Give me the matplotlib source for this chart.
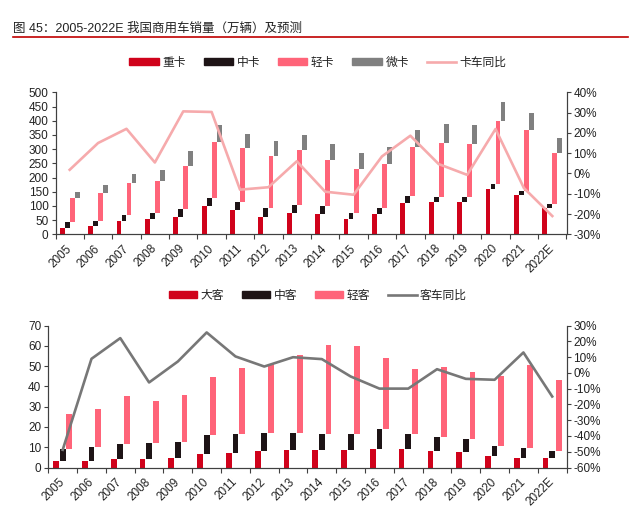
import matplotlib
matplotlib.use("Agg")
import matplotlib.pyplot as plt
import numpy as np
from matplotlib.lines import Line2D
from matplotlib.patches import Patch

plt.rcParams['font.family'] = ['Liberation Sans', 'Noto Sans CJK SC', 'DejaVu Sans']

years = ['2005', '2006', '2007', '2008', '2009', '2010', '2011', '2012', '2013',
         '2014', '2015', '2016', '2017', '2018', '2019', '2020', '2021', '2022E']

# Trucks (万辆), segment values
heavy = [21, 29, 48, 54, 62, 99, 86, 62, 75, 72, 53, 72, 109, 112, 112, 161, 139, 94]
medium = [21, 19, 21, 20, 26, 30, 29, 30, 29, 26, 21, 20, 26, 19, 19, 15, 15, 12]
light = [86, 97, 112, 115, 154, 195, 190, 183, 192, 165, 155, 156, 174, 189, 187, 222, 212, 180]
micro = [21, 28, 32, 36, 52, 60, 48, 54, 53, 55, 57, 61, 59, 67, 66, 68, 61, 53]
truck_yoy = [1.8, 15, 22, 5.4, 30.6, 30.3, -8, -6.8, 6, -9, -10.5, 8.4, 18.6, 4.6, -0.7, 21.9, -7.2, -21]

# Buses (万辆), segment values
bus_large = [3.0, 3.0, 4.1, 4.1, 4.6, 6.9, 7.2, 8.0, 8.4, 8.7, 8.7, 9.0, 9.0, 8.0, 7.7, 5.7, 4.9, 4.6]
bus_medium = [6.0, 6.9, 7.6, 7.9, 8.2, 9.0, 9.4, 8.9, 8.8, 7.9, 7.9, 9.9, 7.3, 7.1, 6.3, 5.0, 4.6, 3.4]
bus_light = [17.6, 19.0, 23.4, 21.0, 22.8, 28.6, 32.3, 34.2, 38.5, 43.8, 43.3, 35.0, 32.1, 34.3, 33.3, 34.5, 41.1, 35.2]
bus_yoy = [-48.8, 8.9, 22, -6.1, 7.2, 25.6, 10.4, 4.0, 9.9, 8.7, -2.3, -10, -10, 2.3, -3.8, -4.4, 12.9, -15]

C_HEAVY = '#D0021B'
C_MED = '#1E1416'
C_LIGHT = '#FF6479'
C_MICRO = '#808080'
C_TLINE = '#F6AAAC'
C_BLINE = '#777777'
SPINE = '#404040'
TXT = '#222222'
FS = 8.5

fig = plt.figure(figsize=(6.4, 5.23), dpi=100)

# Title
fig.text(13/640, 1-29/523, '图 45：2005-2022E 我国商用车销量（万辆）及预测', fontsize=9,
         color=TXT, ha='left', va='center')
fig.add_artist(Line2D([13/640, 628/640], [1-37/523, 1-37/523], color='#C00000', lw=1.2,
                      transform=fig.transFigure))

x = np.arange(len(years))


def style_axes(ax, ax2):
    for a in (ax, ax2):
        a.spines['top'].set_visible(False)
        for s in ('left', 'right', 'bottom'):
            a.spines[s].set_color(SPINE)
            a.spines[s].set_linewidth(0.8)
    ax.set_xlim(-0.5, len(years) - 0.5)
    ax.set_xticks(x)
    ax.set_xticklabels(years, rotation=45, ha='right', va='center', rotation_mode='anchor')
    ax.tick_params(axis='x', which='major', length=0, pad=9, labelsize=FS, labelcolor=TXT)
    ax.set_xticks(np.arange(len(years) + 1) - 0.5, minor=True)
    ax.tick_params(axis='x', which='minor', length=3.5, width=0.8, color=SPINE, direction='out')
    ax.tick_params(axis='y', length=3, width=0.8, color=SPINE, labelsize=FS, labelcolor=TXT, pad=2)
    ax2.tick_params(axis='y', length=3, width=0.8, color=SPINE, labelsize=FS, labelcolor=TXT, pad=2)


# ---------- Top chart: trucks ----------
ax = fig.add_axes([55.5/640, 1-234.3/523, 511/640, 142/523])
ax2 = ax.twinx()
w = 0.17
step = 0.177
b1 = np.array(heavy)
b2 = b1 + np.array(medium)
b3 = b2 + np.array(light)
ax.bar(x - 1.5*step, heavy, width=w, color=C_HEAVY, zorder=2)
ax.bar(x - 0.5*step, medium, width=w, bottom=b1, color=C_MED, zorder=2)
ax.bar(x + 0.5*step, light, width=w, bottom=b2, color=C_LIGHT, zorder=2)
ax.bar(x + 1.5*step, micro, width=w, bottom=b3, color=C_MICRO, zorder=2)
ax2.plot(x, truck_yoy, color=C_TLINE, lw=1.9, zorder=3)
ax.set_ylim(0, 500)
ax.set_yticks(np.arange(0, 501, 50))
ax2.set_ylim(-30, 40)
ax2.set_yticks(np.arange(-30, 41, 10))
ax2.set_yticklabels([f'{v}%' for v in range(-30, 41, 10)])
style_axes(ax, ax2)

h1 = [Patch(color=C_HEAVY), Patch(color=C_MED), Patch(color=C_LIGHT), Patch(color=C_MICRO),
      Line2D([], [], color=C_TLINE, lw=1.9)]
fig.legend(h1, ['重卡', '中卡', '轻卡', '微卡', '卡车同比'], loc='center',
           bbox_to_anchor=(318/640, 1-63/523), ncol=5, frameon=False, fontsize=FS,
           handlelength=2.5, handleheight=0.55, handletextpad=0.3, columnspacing=1.5,
           labelcolor=TXT)

# ---------- Bottom chart: buses ----------
bx = fig.add_axes([48.3/640, 1-467.5/523, 518.3/640, 142/523])
bx2 = bx.twinx()
wb = 0.2
stepb = 0.23
c1 = np.array(bus_large)
c2 = c1 + np.array(bus_medium)
bx.bar(x - stepb, bus_large, width=wb, color=C_HEAVY, zorder=2)
bx.bar(x, bus_medium, width=wb, bottom=c1, color=C_MED, zorder=2)
bx.bar(x + stepb, bus_light, width=wb, bottom=c2, color=C_LIGHT, zorder=2)
bx2.plot(x, bus_yoy, color=C_BLINE, lw=1.9, zorder=3)
bx.set_ylim(0, 70)
bx.set_yticks(np.arange(0, 71, 10))
bx2.set_ylim(-60, 30)
bx2.set_yticks(np.arange(-60, 31, 10))
bx2.set_yticklabels([f'{v}%' for v in range(-60, 31, 10)])
style_axes(bx, bx2)

h2 = [Patch(color=C_HEAVY), Patch(color=C_MED), Patch(color=C_LIGHT),
      Line2D([], [], color=C_BLINE, lw=1.9)]
fig.legend(h2, ['大客', '中客', '轻客', '客车同比'], loc='center',
           bbox_to_anchor=(318/640, 1-296/523), ncol=4, frameon=False, fontsize=FS,
           handlelength=2.4, handleheight=0.55, handletextpad=0.3, columnspacing=1.5,
           labelcolor=TXT)

fig.savefig('out.png', dpi=100)
